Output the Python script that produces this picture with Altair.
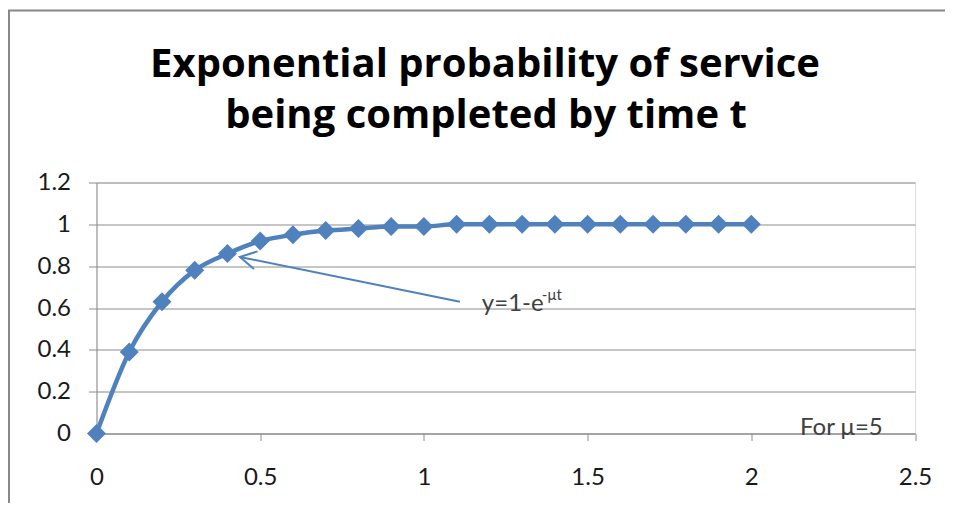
import altair as alt
import pandas as pd

# ---- data ----
t_vals = [0.0, 0.1, 0.2, 0.3, 0.4, 0.5, 0.6, 0.7, 0.8, 0.9, 1.0,
          1.1, 1.2, 1.3, 1.4, 1.5, 1.6, 1.7, 1.8, 1.9, 2.0]
p_vals = [0.0, 0.39, 0.63, 0.78, 0.86, 0.92, 0.95, 0.97, 0.98, 0.99, 0.99,
          1.0, 1.0, 1.0, 1.0, 1.0, 1.0, 1.0, 1.0, 1.0, 1.0]

x_ticks = [0, 0.5, 1, 1.5, 2, 2.5]
y_ticks = [0, 0.2, 0.4, 0.6, 0.8, 1.0, 1.2]

title_lines = ["Exponential probability of service", "being completed by time t"]

# annotation: arrow tail -> tip (data coordinates)
arrow_t = [1.11, 0.438]
arrow_p = [0.630, 0.844]
label_main = "y=1-e"
label_sup = "-μt"
label_pos = (1.177, 0.585)
note_text = "For μ=5"
note_pos = (2.149, -0.007)

BLUE = "#4F81BD"
GRID = "#8c8c8c"
FONT = "Lato"
TITLE_FONT = "Open Sans"

df = pd.DataFrame({"t": t_vals, "p": p_vals})

xscale = alt.Scale(domain=[0, 2.5], nice=False, zero=False)
yscale = alt.Scale(domain=[0, 1.2], nice=False)

xaxis = alt.Axis(values=x_ticks, format="~g", grid=False, title=None,
                 domainColor=GRID, tickColor=GRID, tickSize=7,
                 labelPadding=25, labelFontSize=24, labelFont=FONT,
                 labelColor="#1a1a1a", labelFlush=False)
yaxis = alt.Axis(values=y_ticks, format="~g", grid=True, gridColor=GRID,
                 title=None, domainColor=GRID, tickColor=GRID, tickSize=8,
                 labelPadding=18, labelFontSize=24, labelFont=FONT,
                 labelColor="#1a1a1a")

one = pd.DataFrame({"a": [0]})

frame = alt.Chart(one).mark_rect(
    fill="transparent", stroke="#888888", strokeWidth=2
).encode(x=alt.value(-87.5), x2=alt.value(900), y=alt.value(-172), y2=alt.value(420))

title1 = alt.Chart(pd.DataFrame({"txt": [title_lines[0]]})).mark_text(
    align="center", baseline="alphabetic", font=TITLE_FONT, fontSize=40, fontWeight="bold", color="#000000"
).encode(x=alt.value(388.5), y=alt.value(-105.5), text="txt:N")
title2 = alt.Chart(pd.DataFrame({"txt": [title_lines[1]]})).mark_text(
    align="center", baseline="alphabetic", font=TITLE_FONT, fontSize=40, fontWeight="bold", color="#000000"
).encode(x=alt.value(389.5), y=alt.value(-54.5), text="txt:N")

line = alt.Chart(df).mark_line(color=BLUE, strokeWidth=4.5, interpolate="monotone").encode(
    x=alt.X("t:Q", scale=xscale, axis=xaxis),
    y=alt.Y("p:Q", scale=yscale, axis=yaxis),
)
points = alt.Chart(df).mark_point(shape="diamond", filled=True, color=BLUE, size=361, opacity=1).encode(
    x=alt.X("t:Q", scale=xscale),
    y=alt.Y("p:Q", scale=yscale),
)

arrow_df = pd.DataFrame({"t": [arrow_t[0]], "p": [arrow_p[0]],
                         "t2": [arrow_t[1]], "p2": [arrow_p[1]]})
shaft = alt.Chart(arrow_df).mark_rule(color=BLUE, strokeWidth=2).encode(
    x=alt.X("t:Q", scale=xscale), y=alt.Y("p:Q", scale=yscale),
    x2="t2:Q", y2="p2:Q",
)
head = alt.Chart(arrow_df).mark_point(
    shape="M -1.8 -1 L 0 0 L -1.8 1", filled=False, color=BLUE,
    strokeWidth=2, size=324, angle=191.5, opacity=1
).encode(x=alt.X("t2:Q", scale=xscale), y=alt.Y("p2:Q", scale=yscale))

lab_df = pd.DataFrame({"t": [label_pos[0]], "p": [label_pos[1]],
                       "main": [label_main], "sup": [label_sup]})
lab_main = alt.Chart(lab_df).mark_text(
    align="left", baseline="alphabetic", font=FONT, fontSize=24, color="#404040"
).encode(x=alt.X("t:Q", scale=xscale), y=alt.Y("p:Q", scale=yscale), text="main:N")
lab_sup = alt.Chart(lab_df).mark_text(
    align="left", baseline="alphabetic", font=FONT, fontSize=15, color="#404040",
    dx=60, dy=-11
).encode(x=alt.X("t:Q", scale=xscale), y=alt.Y("p:Q", scale=yscale), text="sup:N")

note_df = pd.DataFrame({"t": [note_pos[0]], "p": [note_pos[1]], "txt": [note_text]})
note = alt.Chart(note_df).mark_text(
    align="left", baseline="alphabetic", font=FONT, fontSize=24, color="#404040"
).encode(x=alt.X("t:Q", scale=xscale), y=alt.Y("p:Q", scale=yscale), text="txt:N")

chart = alt.layer(frame, title1, title2, line, points, shaft, head, lab_main, lab_sup, note).properties(
    width=818.5, height=251,
    autosize=alt.AutoSizeParams(type="none"),
    padding={"left": 88.5, "top": 174.5, "right": 30, "bottom": 69.5},
).configure_view(strokeWidth=0).configure(background="white")

chart.save("out.html", embed_options={"renderer": "svg", "actions": False})
